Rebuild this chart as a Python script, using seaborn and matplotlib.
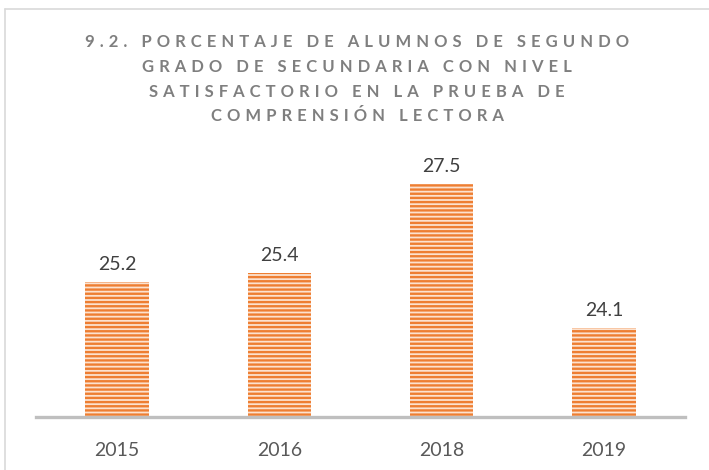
import matplotlib
matplotlib.use("Agg")
import matplotlib.pyplot as plt
import seaborn as sns
import pandas as pd
from matplotlib.lines import Line2D

years = ["2015", "2016", "2018", "2019"]
values = [25.2, 25.4, 27.5, 24.1]
title_lines = [
    "9.2. PORCENTAJE DE ALUMNOS DE SEGUNDO",
    "GRADO DE SECUNDARIA CON NIVEL",
    "SATISFACTORIO EN LA PRUEBA DE",
    "COMPRENSIÓN LECTORA",
]

sns.set_theme(style="white")
plt.rcParams["font.family"] = ["Lato", "DejaVu Sans"]
plt.rcParams["hatch.linewidth"] = 1.7

df = pd.DataFrame({"year": years, "value": values})

fig = plt.figure(figsize=(7.09, 4.70), dpi=100)
ax = fig.add_axes([36 / 709, 1 - 417 / 470, (685 - 36) / 709, (417 - 163) / 470])

sns.barplot(data=df, x="year", y="value", ax=ax, width=0.39,
            color="#FCE2CF", edgecolor="#EE7E32", linewidth=0.0, saturation=1)
for p in ax.patches:
    p.set_hatch("----")

ax.set_ylim(22, 28)
ax.set_xlim(-0.5, 3.5)
ax.set_xlabel("")
ax.set_ylabel("")
ax.set_yticks([])
for s in ["top", "right", "left"]:
    ax.spines[s].set_visible(False)
ax.spines["bottom"].set_color("#BFBFBF")
ax.spines["bottom"].set_linewidth(2.4)
ax.spines["bottom"].set_zorder(5)
ax.tick_params(axis="x", length=0, pad=18, labelsize=14, labelcolor="#595959")

for i, v in enumerate(values):
    ax.annotate(f"{v:.1f}", xy=(i, v), xytext=(0, 6.5), textcoords="offset points",
                ha="center", va="bottom", fontsize=14, color="#404040")

# title with wide letter spacing
for k, line in enumerate(title_lines):
    spaced = " \u200a".join(line)
    fig.text(357 / 709, 1 - (47 + 24.8 * k) / 470, spaced, ha="center", va="baseline",
             fontsize=12, fontweight="bold", color="#7F7F7F")

# chart area frame
fig.add_artist(Line2D([5 / 709, 5 / 709], [0, 1 - 9 / 470], transform=fig.transFigure,
                      color="#D9D9D9", lw=1.2))
fig.add_artist(Line2D([5 / 709, 1], [1 - 9 / 470, 1 - 9 / 470], transform=fig.transFigure,
                      color="#D9D9D9", lw=1.2))

fig.savefig("out.png", dpi=100)
